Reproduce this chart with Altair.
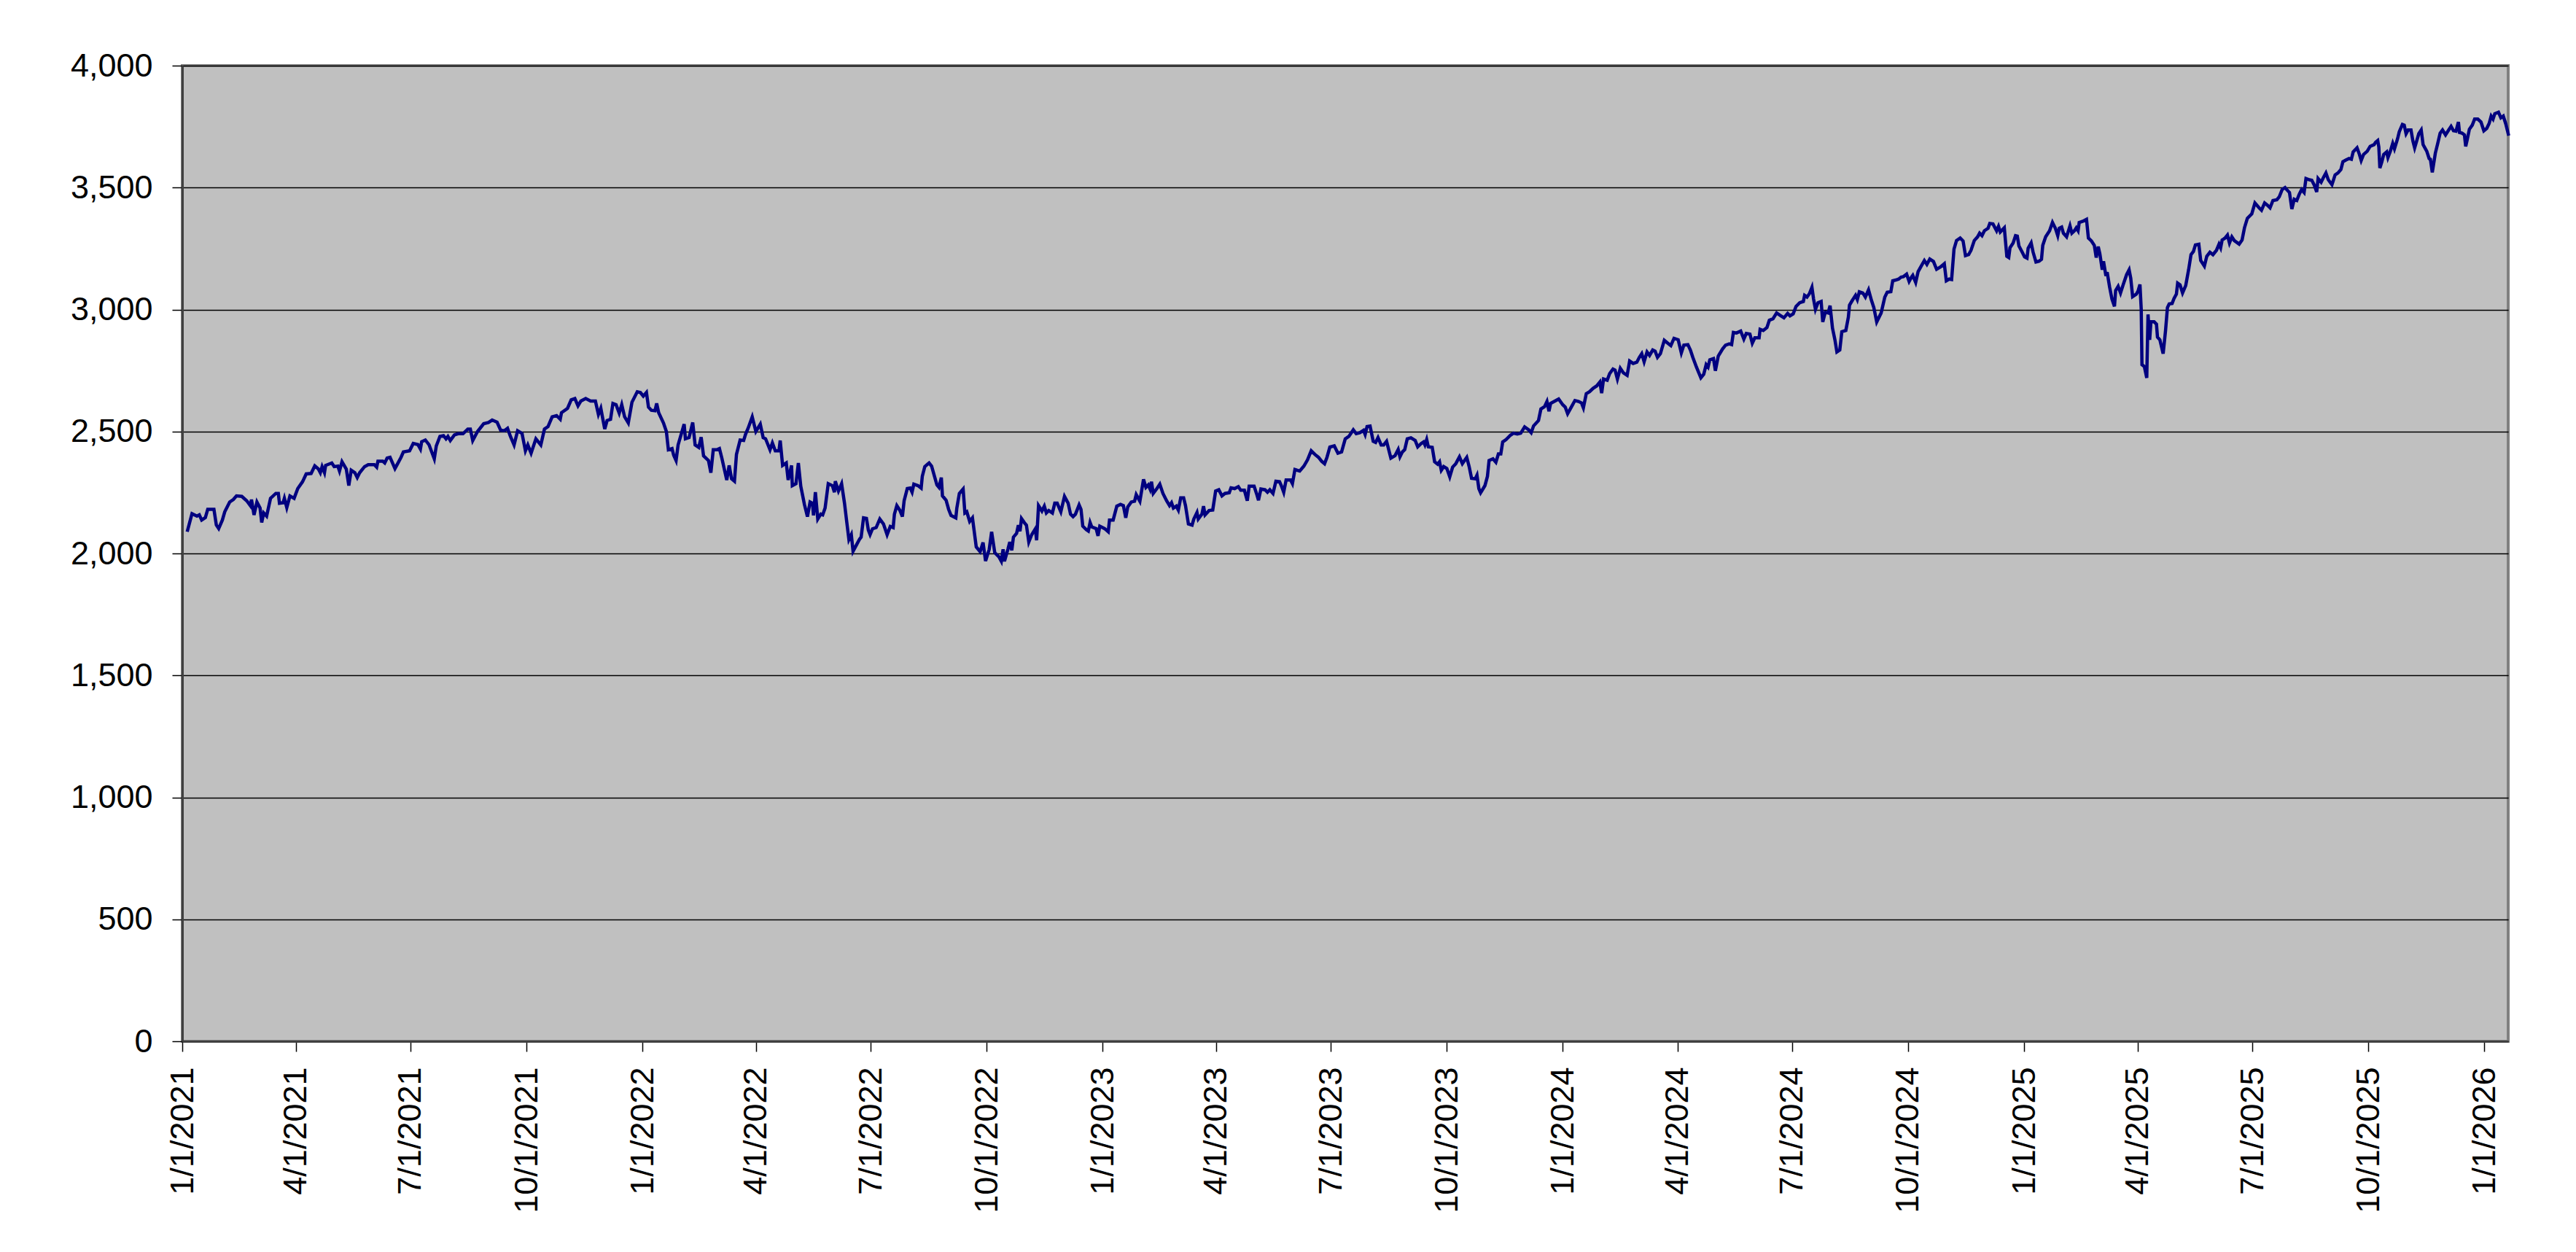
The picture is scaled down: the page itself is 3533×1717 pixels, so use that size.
import altair as alt
import pandas as pd

# ---- data (days after 2021-01-01, index level) ----
start_date = "2021-01-01"
end_date = "2026-01-20"

day_offsets = [
    3.9, 7.7, 11.6, 13.5, 15.4, 18.3, 20.2, 25.1, 27.0, 28.9, 31.8, 33.7, 37.6, 40.5, 43.0, 47.2,
    51.1, 54.0, 54.9, 56.9, 59.2, 61.7, 63.0, 64.6, 66.9, 70.0, 74.2, 76.2, 77.1, 80.0, 81.0, 82.9,
    85.4, 88.7, 91.6, 95.4, 98.3, 102.2, 105.1, 108.0, 109.5, 110.9, 112.8, 113.7, 118.6, 120.5,
    123.4, 124.7, 126.7, 130.1, 132.1, 134.0, 136.9, 138.8, 140.7, 144.6, 147.5, 152.3, 154.2,
    155.2, 159.1, 160.6, 162.5, 164.8, 168.7, 170.6, 173.5, 175.4, 180.3, 183.2, 187.0, 188.9,
    189.9, 192.8, 195.7, 199.9, 201.5, 204.4, 207.2, 209.2, 210.7, 212.6, 215.9, 218.8, 222.7,
    226.5, 228.5, 230.4,
    234.2, 239.1, 242.9, 245.8, 249.7, 252.6, 255.4, 258.0, 260.3, 263.2, 266.0, 269.5, 272.2,
    274.1, 276.7, 280.5, 284.4, 287.3, 290.1, 293.4, 296.9, 299.8, 300.8, 305.6, 308.5, 311.4,
    313.9, 316.2, 320.0, 323.9, 327.7, 330.1, 332.0, 335.1, 337.0, 339.7, 341.6, 344.1, 346.6,
    348.6, 350.9, 353.8, 356.7, 360.9, 363.4, 365.7, 368.2, 369.8, 372.1, 375.0, 376.3, 377.9,
    381.7, 384.0, 385.6, 388.5, 389.8, 391.7, 393.3, 398.1, 399.1, 402.0, 404.9, 406.8, 409.7,
    411.6, 413.5, 417.4, 419.3, 421.2, 424.1, 426.1, 428.0, 431.9, 433.8, 435.7, 438.0, 439.6,
    442.5, 445.3, 446.9, 448.8, 452.1, 455.0, 458.5, 460.8, 462.7, 466.2, 468.1,
    470.4, 473.3, 474.3, 476.2, 479.1, 480.6, 483.3, 483.9, 486.8, 488.7, 490.6, 493.5, 495.9,
    498.0, 499.9, 500.7, 502.2, 504.1, 506.5, 508.0, 509.9, 512.4, 515.7, 517.3, 518.0, 520.5,
    523.0, 525.3, 526.9, 528.8, 530.7, 532.1, 535.0, 537.3, 538.5, 540.4, 542.7, 544.2, 545.6,
    547.5, 550.4, 553.3, 556.2, 559.1, 561.6, 563.9, 564.9, 566.8, 569.3, 571.2, 572.6, 575.1,
    577.4, 578.9, 580.3, 583.6, 586.1, 587.0, 589.0, 592.4, 594.4, 596.7, 598.6, 600.2, 602.1,
    603.0, 605.9, 607.9, 609.8, 613.6, 614.4, 616.4, 619.4, 620.8, 622.3, 624.6, 626.8, 629.8,
    632.9, 635.2, 637.2, 640.1, 642.0, 644.5, 647.8, 649.7, 651.1, 652.2, 654.9, 656.4, 658.0,
    659.3, 661.8, 663.2, 664.5, 665.7, 668.0, 669.6, 671.5, 673.8, 676.7, 677.7, 679.2, 681.9,
    683.8, 685.4, 687.3, 690.2, 692.1, 694.0, 696.9,
    699.8, 702.7, 704.6, 706.6, 708.5, 711.4, 712.9, 714.3, 717.2, 718.7, 720.1, 721.4, 724.9,
    726.4, 727.8, 731.6, 734.5, 735.5, 738.4, 741.3, 744.2, 746.5, 748.4, 750.0, 752.8, 755.4,
    756.7, 759.6, 762.5, 764.4, 766.3, 767.7, 768.8, 770.2, 773.1, 775.4, 777.9, 780.8, 783.1,
    784.7, 786.2, 788.5, 790.1, 792.0, 794.3, 795.8, 798.1, 801.0, 802.4, 804.9, 805.9, 808.8,
    810.1, 811.3, 814.5, 817.4, 819.7, 822.2, 824.7, 827.1, 830.5, 831.9, 834.8, 837.7, 839.6,
    842.5, 844.8, 846.3, 850.2, 852.1, 853.7, 855.6, 858.9, 860.8, 862.7, 865.2, 867.5, 870.4,
    871.8, 873.7, 875.6, 879.1, 880.6, 882.6, 886.4, 889.7, 892.6, 895.5, 898.4, 901.3, 903.8,
    906.1, 908.0, 910.3, 913.8, 916.7, 919.6, 922.5, 925.4, 928.9, 931.2,
    934.1, 937.0, 938.3, 939.8, 942.2, 944.7, 946.6, 948.5, 951.0, 953.0, 955.3, 958.7, 962.0,
    964.5, 965.9, 967.8, 969.7, 971.7, 974.6, 978.0, 980.0, 982.6, 984.6, 985.7, 987.1, 988.4,
    991.5, 993.4, 995.8, 997.3, 998.7, 1000.6, 1003.1, 1005.4, 1007.7, 1010.2, 1013.1, 1015.4,
    1018.9, 1020.8, 1022.7, 1025.6, 1027.0, 1028.5, 1029.9, 1033.3, 1035.3, 1036.6, 1039.7,
    1042.0, 1044.0, 1045.9, 1047.4, 1050.1, 1053.6, 1055.9, 1059.0, 1061.7, 1064.8, 1068.0,
    1070.0, 1071.9, 1075.8, 1077.7, 1080.6, 1082.5, 1084.1, 1085.4, 1088.3, 1091.8, 1095.0,
    1097.0, 1098.9, 1101.8, 1104.7, 1107.6, 1109.9, 1111.4, 1113.7, 1116.3, 1119.1, 1122.0,
    1124.5, 1125.9, 1127.4, 1130.3, 1132.2, 1134.9, 1136.5, 1138.4, 1140.7, 1143.2, 1146.1,
    1148.1, 1150.9, 1153.8, 1155.8, 1157.7, 1159.6, 1161.9, 1163.9, 1166.4,
    1168.3, 1170.2, 1172.5, 1175.6, 1177.9, 1180.8, 1183.3, 1186.6, 1189.1, 1191.1, 1194.3,
    1196.3, 1198.2, 1201.1, 1204.6, 1206.9, 1208.8, 1210.3, 1211.7, 1214.6, 1216.1, 1218.4,
    1221.9, 1224.2, 1227.1, 1229.0, 1230.4, 1232.9, 1236.2, 1238.7, 1240.6, 1243.5, 1245.4,
    1247.4, 1250.8, 1251.6, 1254.1, 1257.0, 1258.9, 1261.8, 1264.7, 1267.6, 1270.5, 1273.4,
    1275.3, 1277.8, 1280.1, 1283.0, 1285.9, 1286.9, 1288.8, 1290.7, 1292.7, 1294.0, 1295.5,
    1297.5, 1300.0, 1301.3, 1303.3, 1305.6, 1307.1, 1309.0, 1311.0, 1312.5, 1314.8, 1316.4,
    1319.6, 1321.6, 1322.5, 1324.8, 1327.3, 1328.7, 1330.3, 1333.1, 1335.1, 1337.6, 1339.9,
    1341.8, 1344.1, 1347.6, 1350.5, 1352.4, 1355.3, 1356.8, 1359.2, 1361.5, 1363.4, 1365.3,
    1367.8, 1369.8, 1371.7, 1372.7, 1375.0, 1376.9, 1379.4, 1381.9, 1383.9, 1386.2, 1389.1,
    1391.6, 1394.8, 1397.7, 1399.3, 1401.6,
    1403.5, 1405.4, 1407.4, 1410.3, 1412.6, 1414.5, 1417.0, 1418.9, 1421.5, 1424.1, 1425.7,
    1427.6, 1429.5, 1432.4, 1433.8, 1436.3, 1439.2, 1440.7, 1442.1, 1445.3, 1447.3, 1448.8,
    1449.8, 1452.3, 1454.2, 1455.6, 1456.9, 1459.4, 1461.4, 1463.3, 1464.2, 1466.6, 1468.1,
    1470.4, 1472.9, 1474.8, 1475.8, 1478.1, 1481.2, 1483.5, 1485.8, 1487.7, 1488.9, 1490.8,
    1492.2, 1494.7, 1497.4, 1498.9, 1500.9, 1502.4, 1503.8, 1504.7, 1507.6, 1510.5, 1512.0,
    1514.4, 1516.7, 1518.2, 1519.8, 1521.1, 1523.0, 1524.0, 1525.9, 1526.9, 1528.8, 1530.7,
    1532.7, 1533.6, 1535.6, 1537.5, 1539.8, 1542.3, 1544.3, 1545.6, 1547.1, 1550.0, 1551.4,
    1552.9, 1553.9, 1554.5, 1556.4, 1558.3, 1559.3, 1560.6, 1561.6, 1564.1, 1566.0, 1566.8,
    1568.7, 1571.3, 1573.2, 1574.7, 1576.1, 1578.4, 1579.9, 1581.8, 1582.8, 1584.7, 1586.7,
    1589.2, 1591.5, 1593.4, 1595.3, 1596.9, 1599.6, 1601.1, 1604.0, 1605.9, 1608.4, 1610.8,
    1613.6, 1615.6, 1616.9, 1618.1, 1620.4, 1622.3, 1623.9, 1625.8, 1627.7, 1631.6, 1633.9,
    1635.8, 1638.1,
    1641.6, 1644.1, 1647.4, 1649.3, 1651.8, 1654.2, 1656.1, 1658.4, 1661.5, 1663.4, 1665.7,
    1668.0, 1669.6, 1671.5, 1673.4, 1675.3, 1677.3, 1679.2, 1681.1, 1683.1, 1684.6, 1687.3,
    1689.2, 1691.2, 1693.1, 1694.2, 1696.6, 1698.5, 1700.4, 1702.3, 1705.2, 1707.7, 1710.0,
    1712.3, 1713.9, 1716.2, 1718.7, 1720.6, 1722.0, 1725.1, 1727.0, 1728.4, 1730.3, 1733.2,
    1735.5, 1738.6, 1739.9, 1741.5, 1742.4, 1743.2, 1744.7, 1746.3, 1748.6, 1749.6, 1751.5,
    1753.4, 1754.8, 1757.3, 1758.6, 1761.1, 1762.5, 1764.0, 1765.6, 1767.9, 1769.4, 1770.8,
    1772.7, 1774.1, 1776.0, 1777.5, 1780.4, 1782.3, 1783.3, 1784.8, 1787.2, 1789.1, 1791.0,
    1792.9, 1795.3, 1797.8, 1799.7, 1801.6, 1803.6, 1805.5, 1806.4, 1808.4, 1810.3, 1811.3,
    1812.6, 1814.2, 1816.5, 1818.4, 1820.9, 1823.4, 1825.7, 1828.0, 1829.9, 1831.5, 1833.0,
    1834.4, 1837.3, 1839.2, 1841.1, 1843.1, 1845.4,
]

index_values = [
    2089, 2163, 2153, 2158, 2137, 2147, 2181, 2181, 2117, 2102, 2137, 2171, 2211, 2221, 2236, 2234,
    2216, 2196, 2221, 2158, 2211, 2186, 2127, 2166, 2153, 2226, 2246, 2246, 2206, 2208, 2226, 2188,
    2236, 2226, 2266, 2294, 2326, 2328, 2359, 2346, 2331, 2356, 2331, 2361, 2371, 2356,
    2358, 2338, 2376, 2346, 2278, 2341, 2331, 2311, 2331, 2356, 2364, 2364, 2354,
    2378, 2378, 2371, 2391, 2394, 2348, 2366, 2394, 2416, 2421, 2451, 2446, 2428,
    2458, 2465, 2446, 2388, 2441, 2480, 2483, 2470, 2480, 2463, 2486, 2491, 2491,
    2510, 2510, 2463,
    2500, 2532, 2537, 2547, 2538, 2505, 2503, 2513, 2480, 2445, 2503, 2492, 2421,
    2445, 2411, 2470, 2445, 2510, 2520, 2560, 2565, 2550, 2577, 2595, 2630, 2635,
    2605, 2625, 2635, 2625, 2625, 2570, 2595, 2510, 2545, 2550, 2615, 2610, 2575,
    2610, 2560, 2535, 2620, 2663, 2660, 2645, 2660, 2600, 2587, 2585, 2615, 2577,
    2535, 2500, 2425, 2430, 2403, 2381, 2445, 2530, 2470, 2475, 2537, 2445, 2435,
    2477, 2400, 2381, 2331, 2425, 2425, 2430, 2391, 2301, 2361, 2306, 2296, 2406,
    2465, 2463, 2490, 2513, 2560, 2500, 2530, 2475, 2470, 2425, 2453,
    2421, 2421, 2463, 2361, 2371, 2301, 2361, 2278, 2286, 2371, 2276, 2201, 2151,
    2211, 2206, 2156, 2251, 2141, 2161, 2158, 2186, 2286, 2278, 2251, 2296, 2256,
    2286, 2206, 2137, 2057, 2077, 2009, 2037, 2059, 2067, 2146, 2144, 2096, 2077,
    2101, 2106, 2141, 2121, 2077, 2111, 2106, 2161, 2196, 2176, 2151, 2216, 2266,
    2268, 2251, 2284, 2278, 2268, 2316, 2356, 2371, 2358, 2316, 2281, 2271, 2311,
    2236, 2218, 2181, 2156, 2146, 2186, 2246, 2264, 2166, 2171, 2131, 2146, 2027,
    2007, 2045, 1969, 2017, 2089, 2003, 1986, 1968, 2017, 1968, 2017, 2047, 2013,
    2067, 2082, 2116, 2091, 2143, 2126, 2116, 2047, 2077, 2101, 2054, 2196, 2174,
    2194, 2166, 2176, 2166, 2206, 2206, 2171,
    2234, 2206, 2161, 2151, 2161, 2199, 2181, 2112, 2097, 2092, 2127, 2109, 2102,
    2072, 2112, 2102, 2089, 2137, 2137, 2194, 2201, 2196, 2146, 2191, 2211, 2214,
    2241, 2214, 2304, 2271, 2281, 2264, 2294, 2246, 2266, 2284, 2246, 2216, 2196,
    2208, 2186, 2194, 2178, 2228, 2228, 2196, 2121, 2116, 2141, 2168, 2141, 2161,
    2194, 2158, 2176, 2178, 2256, 2261, 2236, 2246, 2249, 2269, 2266, 2274, 2259,
    2259, 2216, 2276, 2276, 2246, 2218, 2264, 2261, 2251, 2261, 2246, 2296, 2294,
    2278, 2251, 2301, 2301, 2286, 2344, 2338, 2358, 2384, 2421, 2406, 2394, 2378,
    2368, 2394, 2436, 2441, 2411, 2416, 2470, 2480, 2507, 2491,
    2495, 2505, 2488, 2520, 2522, 2460, 2455, 2475, 2445, 2445, 2460, 2391, 2401,
    2426, 2396, 2416, 2426, 2470, 2474, 2463, 2437, 2450, 2457, 2445, 2467, 2437,
    2435, 2376, 2366, 2376, 2341, 2356, 2348, 2314, 2354, 2368, 2396, 2368,
    2394, 2356, 2308, 2306, 2321, 2266, 2249, 2278, 2316, 2381, 2388,
    2374, 2408, 2408, 2457, 2467, 2485, 2493, 2490, 2493, 2519, 2507,
    2495, 2523, 2545, 2592, 2602, 2623, 2583, 2615, 2623, 2633, 2610,
    2600, 2573, 2600, 2627, 2623, 2617, 2597, 2655, 2663, 2677, 2687,
    2703, 2657, 2715, 2710, 2737, 2756, 2752, 2715, 2759, 2740, 2730,
    2789, 2779, 2784, 2804, 2819, 2786, 2826, 2812, 2834,
    2829, 2804, 2819, 2874, 2864, 2852, 2882, 2876, 2822, 2854, 2856,
    2834, 2804, 2764, 2720, 2735, 2774, 2764, 2794, 2799, 2749, 2809,
    2839, 2854, 2859, 2856, 2906, 2904, 2912, 2879, 2902, 2899, 2862,
    2884, 2884, 2919, 2914, 2926, 2956, 2962, 2986, 2976, 2966, 2984,
    2974, 2982, 3013, 3028, 3033, 3058, 3051, 3065, 3091, 3043, 3001,
    3028, 3033, 2949, 2989, 2986, 3016, 2924, 2874, 2826, 2834, 2909,
    2914, 2969, 3018, 3038, 3058, 3041, 3073, 3068, 3051, 3081, 3038,
    3008, 2949, 2986, 3051, 3071, 3073, 3118, 3121, 3125, 3133, 3135,
    3145, 3115, 3133, 3140, 3111, 3155, 3178, 3201, 3185, 3207, 3197,
    3165, 3175, 3188, 3118, 3125,
    3123, 3248, 3283, 3293, 3281, 3221, 3225, 3243, 3283, 3298, 3313,
    3303, 3323, 3333, 3353, 3351, 3323, 3341, 3318, 3335, 3218, 3213,
    3253, 3273, 3303, 3301, 3261, 3236, 3216, 3211, 3251, 3273, 3236,
    3195, 3198, 3206, 3263, 3298, 3323, 3357, 3333, 3303, 3333, 3338,
    3313, 3298, 3343, 3313, 3323, 3335, 3323, 3357, 3362, 3370, 3293,
    3281, 3263, 3213, 3258, 3228, 3163, 3198, 3138, 3153, 3093, 3043,
    3013, 3078, 3095, 3068, 3105, 3143, 3163, 3128, 3053, 3063, 3076,
    3103, 3003, 2774, 2766, 2720, 2980, 2876, 2950, 2950, 2940, 2887,
    2876, 2819, 2914, 3008, 3023, 3025, 3045, 3063, 3108, 3101, 3068,
    3098, 3163, 3225, 3238, 3265, 3268, 3201, 3178, 3218, 3235, 3225,
    3243, 3268, 3253, 3285, 3293, 3305, 3273, 3298, 3283, 3268, 3285,
    3335, 3374,
    3392, 3437, 3417, 3407, 3437, 3427, 3417, 3447, 3450, 3462, 3492,
    3500, 3490, 3480, 3412, 3452, 3447, 3472, 3492, 3480, 3537, 3532,
    3530, 3510, 3482, 3537, 3522, 3542, 3560, 3532, 3512, 3552, 3560,
    3574, 3606, 3613, 3619, 3616, 3646, 3663, 3636, 3611, 3636, 3649,
    3669, 3676, 3686, 3693, 3666, 3580, 3604, 3636, 3646, 3623, 3649,
    3681, 3659, 3701, 3729, 3759, 3756, 3721, 3736, 3736, 3691, 3663,
    3696, 3721, 3736, 3676, 3649, 3619, 3616, 3562, 3641, 3681, 3723,
    3736, 3716, 3736, 3751, 3733, 3731, 3769, 3726, 3723, 3716, 3669,
    3699, 3739, 3756, 3781, 3781, 3769, 3733, 3743, 3763, 3793, 3781,
    3803, 3809, 3786, 3793, 3761, 3713,
]

x_tick_dates = [
    "2021-01-01", "2021-04-01", "2021-07-01", "2021-10-01",
    "2022-01-01", "2022-04-01", "2022-07-01", "2022-10-01",
    "2023-01-01", "2023-04-01", "2023-07-01", "2023-10-01",
    "2024-01-01", "2024-04-01", "2024-07-01", "2024-10-01",
    "2025-01-01", "2025-04-01", "2025-07-01", "2025-10-01",
    "2026-01-01",
]
y_ticks = [0, 500, 1000, 1500, 2000, 2500, 3000, 3500, 4000]

# ---- build table ----
n = min(len(day_offsets), len(index_values))
dates = pd.Timestamp(start_date) + pd.to_timedelta(day_offsets[:n], unit="D")
df = pd.DataFrame({"date": dates, "value": index_values[:n]})


def to_dt(s):
    t = pd.Timestamp(s)
    return alt.DateTime(year=t.year, month=t.month, date=t.day)


FONT = "Liberation Sans"

x_axis = alt.Axis(
    values=[to_dt(s) for s in x_tick_dates],
    format="%-m/%-d/%Y",
    labelAngle=-90,
    labelFont=FONT,
    labelFontSize=45,
    labelColor="#000000",
    labelPadding=21,
    labelFlush=False,
    labelOverlap=False,
    labelLimit=0,
    tickSize=14,
    tickColor="#000000",
    tickWidth=1.5,
    domainColor="#404040",
    domainWidth=3,
    grid=False,
    title=None,
)

y_axis = alt.Axis(
    values=y_ticks,
    format=",d",
    labelFont=FONT,
    labelFontSize=45,
    labelColor="#000000",
    labelPadding=27,
    labelLimit=0,
    tickSize=14,
    tickColor="#000000",
    tickWidth=1.5,
    domainColor="#404040",
    domainWidth=3,
    grid=True,
    gridColor="#000000",
    gridWidth=1.3,
    title=None,
)

chart = (
    alt.Chart(df)
    .mark_line(color="#000080", strokeWidth=4.5)
    .encode(
        x=alt.X(
            "date:T",
            axis=x_axis,
            scale=alt.Scale(domain=[to_dt(start_date), to_dt(end_date)], nice=False),
        ),
        y=alt.Y(
            "value:Q",
            axis=y_axis,
            scale=alt.Scale(domain=[0, 4000], nice=False, zero=True),
        ),
    )
    .properties(
        width=3190,
        height=1338,
        padding={"left": 242, "top": 82, "right": 80, "bottom": 270},
        autosize=alt.AutoSizeParams(type="none"),
        background="#FFFFFF",
    )
    .configure_view(fill="#C0C0C0", stroke="#808080", strokeWidth=4)
)

chart.save("out.html", embed_options={"renderer": "svg", "actions": False})
